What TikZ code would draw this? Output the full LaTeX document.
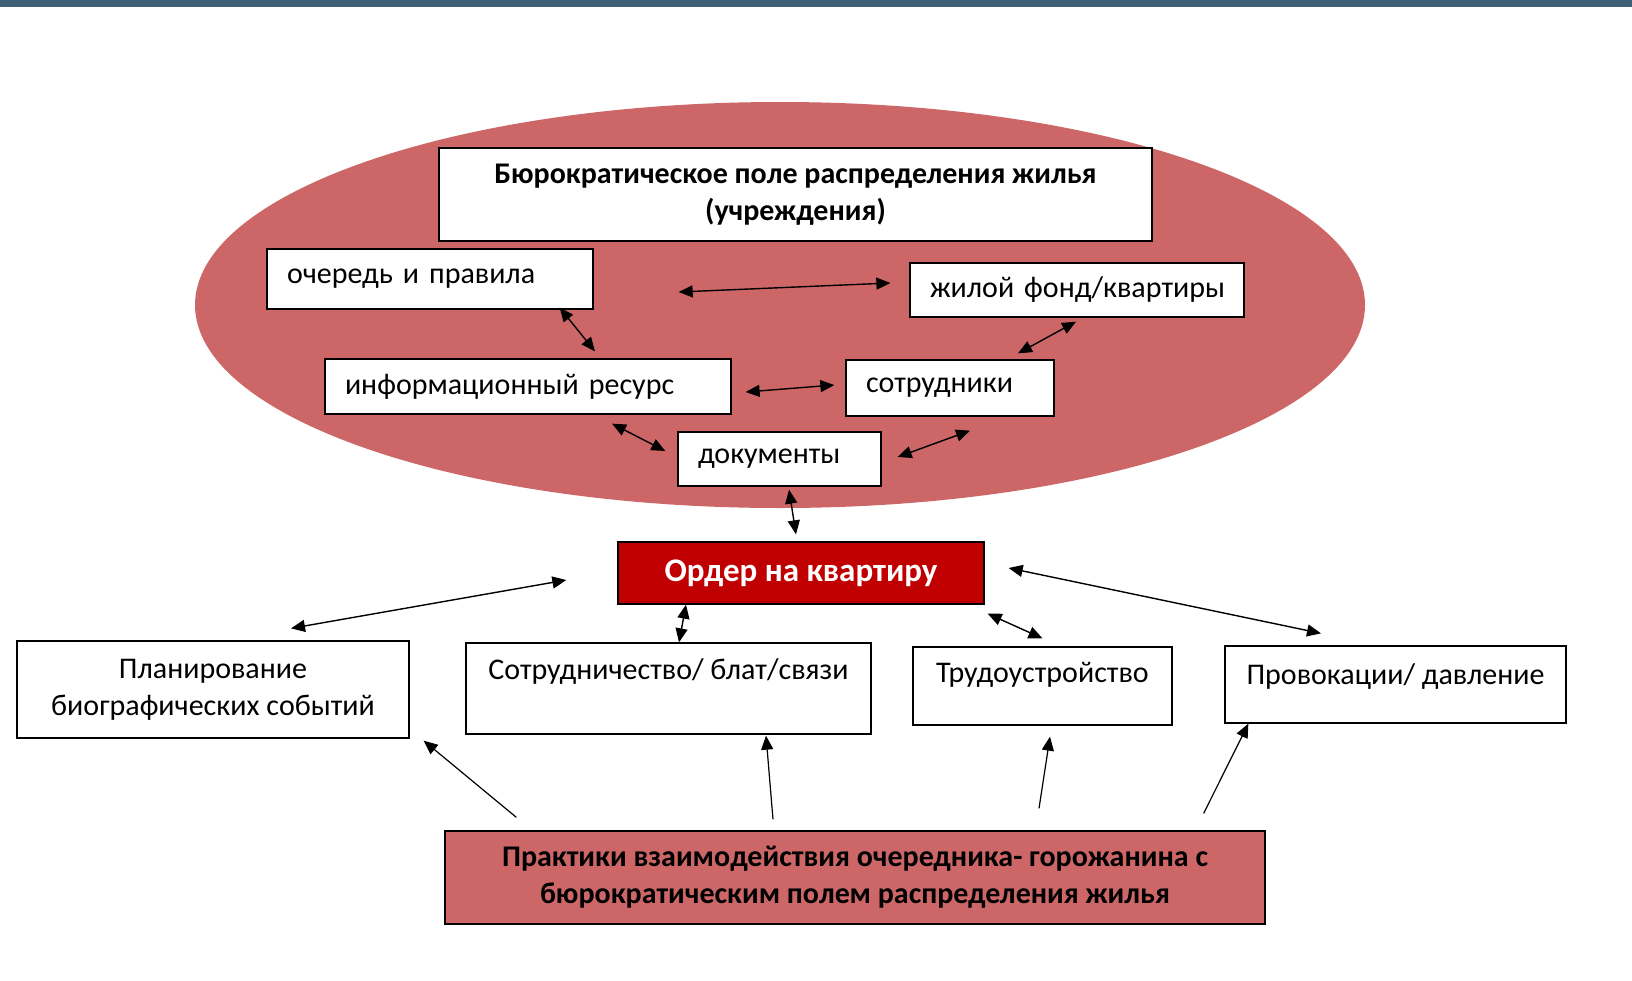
\documentclass[tikz,border=0pt]{standalone}
\usepackage{fontspec}
\setmainfont{Carlito}
\usepackage{tikz}
\usetikzlibrary{calc, arrows.meta}

\definecolor{topbar}{RGB}{62,97,117}
\definecolor{fieldred}{RGB}{205,103,103}
\definecolor{orderred}{RGB}{192,0,0}

\begin{document}
\begin{tikzpicture}[x=1pt, y=-1pt,
    every node/.style={rectangle, draw, line width=1.3pt, fill=white, inner sep=0pt, font=\fontsize{30}{37}\selectfont},
    item/.style={align=left, text width=#1, execute at begin node=\hspace*{20pt}},
    topalign/.style 2 args={text height=#2, text depth=#1-#2},
    dbl/.style={{Triangle[length=14pt,width=12pt]}-{Triangle[length=14pt,width=12pt]}, line width=1.4pt},
    one/.style={-{Triangle[length=14pt,width=12pt]}, line width=1.2pt}]
    \useasboundingbox (0,0) rectangle (1632,980);
    \fill[topbar] (0,0) rectangle (1632,7);
    \fill[fieldred] (780,305) ellipse [x radius=585, y radius=203];

    \node[minimum width=713, minimum height=93, align=center, font=\fontsize{30}{37}\selectfont\bfseries] (field) at (795.5,194.5) {Бюрократическое поле распределения жилья\\(учреждения)};
    \node[item=326, minimum height=60] (queue) at (430,279) {очередь и правила};
    \node[item=334, minimum height=54] (stock) at (1077,290) {жилой фонд/квартиры};
    \node[item=406, minimum height=55] (info) at (528,386.5) {информационный ресурс};
    \node[item=208, minimum height=56] (staff) at (950,388) {сотрудники};
    \node[item=203, minimum height=54] (docs) at (779.5,459) {документы};

    \node[fill=orderred, minimum width=366, minimum height=62, text=white, font=\fontsize{33}{37}\selectfont\bfseries] (order) at (801,573) {Ордер на квартиру};

    \node[minimum width=392, minimum height=97, align=center] (plan) at (213,689.5) {Планирование\\биографических событий};
    \node[minimum width=405, topalign={91pt}{36pt}] (blat) at (668.5,688.5) {Сотрудничество/ блат/связи};
    \node[minimum width=259, topalign={78pt}{35pt}] (job) at (1042.5,686) {Трудоустройство};
    \node[minimum width=341, topalign={77pt}{38pt}] (press) at (1395.5,684.5) {Провокации/ давление};

    \node[fill=fieldred, minimum width=820, minimum height=93, align=center, font=\fontsize{30}{37}\selectfont\bfseries] (practice) at (855,877.5) {Практики взаимодействия очередника- горожанина с\\бюрократическим полем распределения жилья};

    \draw[dbl] ($(queue.east)+(85,13)$) -- ($(stock.west)+(-19,-7)$);
    \draw[dbl] ($(queue.south east)+(-34,-2)$) -- ($(info.north)+(67,-7)$);
    \draw[dbl] ($(stock.south)+(-1,4)$) -- ($(staff.north)+(68,-6)$);
    \draw[dbl] ($(info.east)+(14,5.5)$) -- ($(staff.west)+(-11,-3)$);
    \draw[dbl] ($(info.south)+(84,9)$) -- ($(docs.west)+(-12,-8)$);
    \draw[dbl] ($(docs.east)+(16,-2)$) -- ($(staff.south)+(20,14)$);
    \draw[dbl] ($(docs.south)+(9.5,3)$) -- ($(order.north)+(-5,-7)$);
    \draw[dbl] ($(order.west)+(-51,7)$) -- ($(plan.north)+(78,-12)$);
    \draw[dbl] ($(order.south)+(-115,0)$) -- ($(blat.north)+(10.5,0)$);
    \draw[dbl] ($(order.south east)+(3,9)$) -- ($(job.north)+(0,-8)$);
    \draw[dbl] ($(order.east)+(24,-5)$) -- ($(press.north)+(-74.5,-12)$);

    \draw[one] ($(practice.north west)+(72,-13)$) -- ($(plan.south east)+(14,2)$);
    \draw[one] ($(practice.north)+(-82,-11)$) -- ($(blat.south)+(97.5,1)$);
    \draw[one] ($(practice.north)+(184,-22)$) -- ($(job.south)+(7.5,11)$);
    \draw[one] ($(practice.north east)+(-62,-17)$) -- ($(press.south west)+(24,0)$);
\end{tikzpicture}
\end{document}
